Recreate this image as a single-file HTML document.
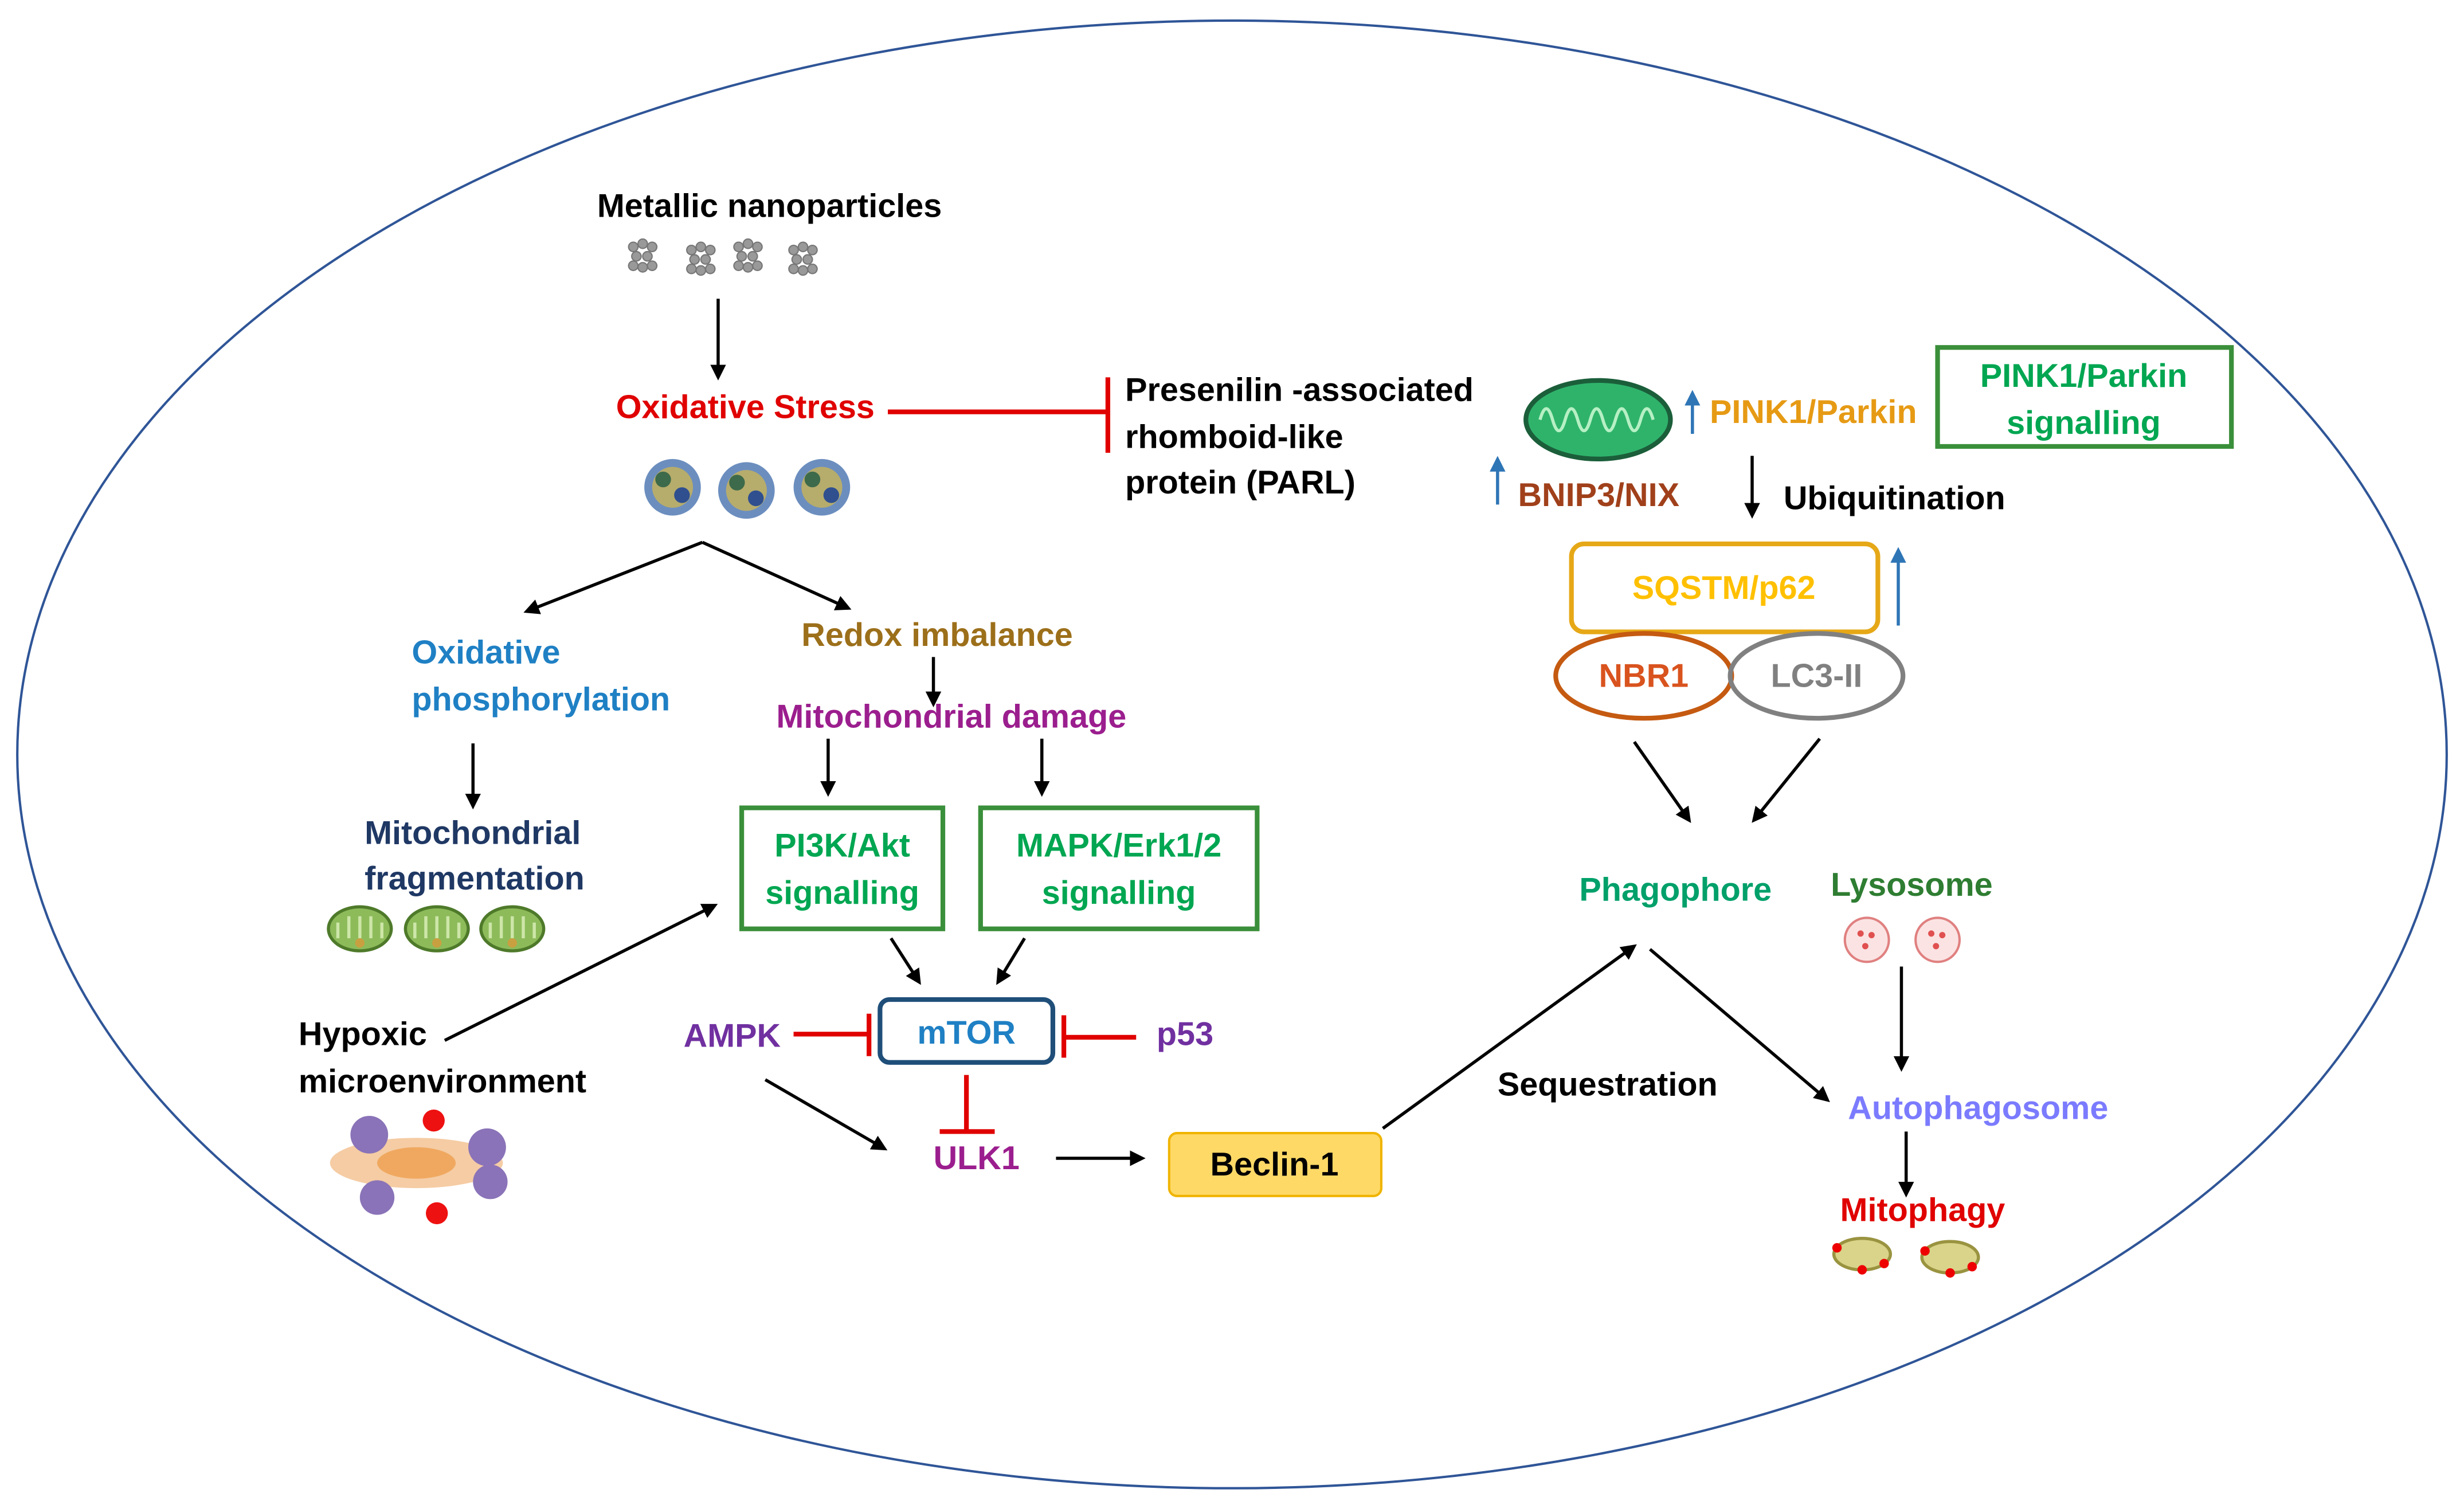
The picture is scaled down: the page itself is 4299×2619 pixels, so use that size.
<!DOCTYPE html>
<html><head><meta charset="utf-8"><style>
html,body{margin:0;padding:0;background:#fff}
svg{display:block}
text{font-family:"Liberation Sans",sans-serif;font-weight:bold;font-size:21px}
</style></head><body>
<svg width="4299" height="2619" viewBox="0 0 1568 955" xmlns="http://www.w3.org/2000/svg">
<defs>
<marker id="a" markerWidth="10" markerHeight="10" refX="8" refY="5" orient="auto" markerUnits="userSpaceOnUse"><path d="M0,0 L10,5 L0,10 z" fill="#000"/></marker>
<marker id="b" markerWidth="10" markerHeight="10" refX="8" refY="5" orient="auto" markerUnits="userSpaceOnUse"><path d="M0,0 L10,5 L0,10 z" fill="#2E75B6"/></marker>
<g id="np" fill="#999" stroke="#777" stroke-width="0.8"><circle cx="0" cy="0" r="3"/><circle cx="6" cy="-2" r="3"/><circle cx="12" cy="0" r="3"/><circle cx="2" cy="6" r="3"/><circle cx="9" cy="6" r="3"/><circle cx="0" cy="12" r="3"/><circle cx="6" cy="13" r="3"/><circle cx="12" cy="12" r="3"/></g>
<g id="cp"><circle r="18" fill="#6C8EBF"/><circle r="13" fill="#C9B458" opacity="0.8"/><circle cx="-6" cy="-5" r="5" fill="#3D6A4A"/><circle cx="6" cy="5" r="5" fill="#2F4F8F"/></g>
<g id="mi"><ellipse rx="20" ry="14" fill="#8DBB5A" stroke="#4E7A2A" stroke-width="2"/><path d="M-14,-4 v10 M-7,-8 v14 M0,-8 v14 M7,-8 v14 M14,-4 v10" stroke="#CDE6A8" stroke-width="2"/><circle cx="0" cy="9" r="3" fill="#C9A040"/></g>
<g id="my"><ellipse rx="18" ry="10" fill="#D9D48A" stroke="#9A9340" stroke-width="2"/><circle cx="-16" cy="-4" r="3" fill="#E00"/><circle cx="14" cy="6" r="3" fill="#E00"/><circle cx="0" cy="10" r="3" fill="#E00"/></g>
</defs>
<ellipse cx="784" cy="480" rx="773" ry="467" fill="none" stroke="#2F5597" stroke-width="1.5"/>

<text x="380" y="138">Metallic nanoparticles</text>
<use href="#np" x="403" y="157"/><use href="#np" x="440" y="159"/><use href="#np" x="470" y="157"/><use href="#np" x="505" y="159"/>
<line x1="457" y1="190" x2="457" y2="240" stroke="#000" stroke-width="2" marker-end="url(#a)"/>
<text x="392" y="266" fill="#E00000">Oxidative Stress</text>
<line x1="565" y1="262" x2="705" y2="262" stroke="#E00000" stroke-width="3"/>
<line x1="705" y1="240" x2="705" y2="288" stroke="#E00000" stroke-width="3"/>
<text x="716" y="255">Presenilin -associated</text>
<text x="716" y="285">rhomboid-like</text>
<text x="716" y="314">protein (PARL)</text>
<use href="#cp" x="428" y="310"/><use href="#cp" x="475" y="312"/><use href="#cp" x="523" y="310"/>
<line x1="447" y1="345" x2="335" y2="389" stroke="#000" stroke-width="2" marker-end="url(#a)"/>
<line x1="447" y1="345" x2="540" y2="387" stroke="#000" stroke-width="2" marker-end="url(#a)"/>
<text x="262" y="422" fill="#1F80C4">Oxidative</text>
<text x="262" y="452" fill="#1F80C4">phosphorylation</text>
<text x="510" y="411" fill="#9C6F1A">Redox imbalance</text>
<line x1="594" y1="418" x2="594" y2="448" stroke="#000" stroke-width="2" marker-end="url(#a)"/>
<text x="494" y="463" fill="#9B1E8E">Mitochondrial damage</text>
<line x1="527" y1="470" x2="527" y2="505" stroke="#000" stroke-width="2" marker-end="url(#a)"/>
<line x1="663" y1="470" x2="663" y2="505" stroke="#000" stroke-width="2" marker-end="url(#a)"/>
<line x1="301" y1="473" x2="301" y2="513" stroke="#000" stroke-width="2" marker-end="url(#a)"/>
<text x="232" y="537" fill="#1F3864">Mitochondrial</text>
<text x="232" y="566" fill="#1F3864">fragmentation</text>
<use href="#mi" x="229" y="591"/><use href="#mi" x="278" y="591"/><use href="#mi" x="326" y="591"/>
<rect x="472" y="514" width="128" height="77" fill="none" stroke="#3A8F3A" stroke-width="3"/>
<text x="536" y="545" fill="#00A651" text-anchor="middle">PI3K/Akt</text>
<text x="536" y="575" fill="#00A651" text-anchor="middle">signalling</text>
<rect x="624" y="514" width="176" height="77" fill="none" stroke="#3A8F3A" stroke-width="3"/>
<text x="712" y="545" fill="#00A651" text-anchor="middle">MAPK/Erk1/2</text>
<text x="712" y="575" fill="#00A651" text-anchor="middle">signalling</text>
<line x1="567" y1="597" x2="585" y2="625" stroke="#000" stroke-width="2" marker-end="url(#a)"/>
<line x1="652" y1="597" x2="635" y2="625" stroke="#000" stroke-width="2" marker-end="url(#a)"/>
<line x1="283" y1="662" x2="455" y2="576" stroke="#000" stroke-width="2" marker-end="url(#a)"/>
<text x="190" y="665">Hypoxic</text>
<text x="190" y="695">microenvironment</text>
<g>
<ellipse cx="265" cy="740" rx="55" ry="16" fill="#F4C79A" opacity="0.9"/>
<ellipse cx="265" cy="740" rx="25" ry="10" fill="#F0A860"/>
<circle cx="235" cy="722" r="12" fill="#8A73B8"/><circle cx="310" cy="730" r="12" fill="#8A73B8"/><circle cx="240" cy="762" r="11" fill="#8A73B8"/><circle cx="312" cy="752" r="11" fill="#8A73B8"/>
<circle cx="276" cy="713" r="7" fill="#E11"/><circle cx="278" cy="772" r="7" fill="#E11"/>
</g>
<text x="435" y="666" fill="#7030A0">AMPK</text>
<line x1="505" y1="658" x2="553" y2="658" stroke="#E00000" stroke-width="3"/>
<line x1="553" y1="645" x2="553" y2="672" stroke="#E00000" stroke-width="3"/>
<rect x="560" y="636" width="110" height="40" rx="6" fill="none" stroke="#1F4E79" stroke-width="3"/>
<text x="615" y="664" fill="#1F80C4" text-anchor="middle">mTOR</text>
<text x="736" y="665" fill="#7030A0">p53</text>
<line x1="723" y1="660" x2="677" y2="660" stroke="#E00000" stroke-width="3"/>
<line x1="677" y1="646" x2="677" y2="673" stroke="#E00000" stroke-width="3"/>
<line x1="615" y1="684" x2="615" y2="720" stroke="#E00000" stroke-width="3"/>
<line x1="598" y1="720" x2="633" y2="720" stroke="#E00000" stroke-width="3"/>
<text x="594" y="744" fill="#9B1E8E">ULK1</text>
<line x1="487" y1="687" x2="563" y2="731" stroke="#000" stroke-width="2" marker-end="url(#a)"/>
<line x1="672" y1="737" x2="727" y2="737" stroke="#000" stroke-width="2" marker-end="url(#a)"/>
<rect x="744" y="721" width="135" height="40" rx="5" fill="#FFD966" stroke="#F0B400" stroke-width="1.5"/>
<text x="811" y="748" text-anchor="middle">Beclin-1</text>
<line x1="880" y1="718" x2="1040" y2="602" stroke="#000" stroke-width="2" marker-end="url(#a)"/>
<text x="953" y="697">Sequestration</text>

<g><ellipse cx="1017" cy="267" rx="46" ry="25" fill="#2FB36B" stroke="#1B5E3A" stroke-width="3"/>
<path d="M980,267 q4,-14 8,0 q4,14 8,0 q4,-14 8,0 q4,14 8,0 q4,-14 8,0 q4,14 8,0 q4,-14 8,0 q4,14 8,0 q4,-14 8,0" fill="none" stroke="#B6F0C4" stroke-width="2"/></g>
<line x1="1077" y1="276" x2="1077" y2="250" stroke="#2E75B6" stroke-width="2" marker-end="url(#b)"/>
<text x="1088" y="269" fill="#E69A14">PINK1/Parkin</text>
<rect x="1233" y="221" width="187" height="63" fill="none" stroke="#3A8F3A" stroke-width="3"/>
<text x="1326" y="246" fill="#00A651" text-anchor="middle">PINK1/Parkin</text>
<text x="1326" y="276" fill="#00A651" text-anchor="middle">signalling</text>
<line x1="953" y1="321" x2="953" y2="292" stroke="#2E75B6" stroke-width="2" marker-end="url(#b)"/>
<text x="966" y="322" fill="#A0401A">BNIP3/NIX</text>
<line x1="1115" y1="290" x2="1115" y2="328" stroke="#000" stroke-width="2" marker-end="url(#a)"/>
<text x="1135" y="324">Ubiquitination</text>
<rect x="1000" y="346" width="195" height="56" rx="8" fill="none" stroke="#E6A817" stroke-width="3"/>
<text x="1097" y="381" fill="#FFC000" text-anchor="middle">SQSTM/p62</text>
<line x1="1208" y1="398" x2="1208" y2="350" stroke="#2E75B6" stroke-width="2" marker-end="url(#b)"/>
<ellipse cx="1046" cy="430" rx="56" ry="27" fill="#fff" stroke="#C55A11" stroke-width="3"/>
<text x="1046" y="437" fill="#D9531E" text-anchor="middle">NBR1</text>
<ellipse cx="1156" cy="430" rx="55" ry="27" fill="none" stroke="#808080" stroke-width="3"/>
<text x="1156" y="437" fill="#808080" text-anchor="middle">LC3-II</text>
<line x1="1040" y1="472" x2="1075" y2="522" stroke="#000" stroke-width="2" marker-end="url(#a)"/>
<line x1="1158" y1="470" x2="1116" y2="522" stroke="#000" stroke-width="2" marker-end="url(#a)"/>
<text x="1005" y="573" fill="#00A06A">Phagophore</text>
<text x="1165" y="570" fill="#2E7D32">Lysosome</text>
<g fill="#FBE3E3" stroke="#E08080" stroke-width="1.5"><circle cx="1188" cy="598" r="14"/><circle cx="1233" cy="598" r="14"/></g>
<g fill="#E05050"><circle cx="1184" cy="594" r="2"/><circle cx="1191" cy="595" r="2"/><circle cx="1187" cy="602" r="2"/><circle cx="1229" cy="594" r="2"/><circle cx="1236" cy="595" r="2"/><circle cx="1232" cy="602" r="2"/></g>
<line x1="1210" y1="615" x2="1210" y2="680" stroke="#000" stroke-width="2" marker-end="url(#a)"/>
<line x1="1050" y1="604" x2="1163" y2="700" stroke="#000" stroke-width="2" marker-end="url(#a)"/>
<text x="1176" y="712" fill="#7B7BFF">Autophagosome</text>
<line x1="1213" y1="720" x2="1213" y2="760" stroke="#000" stroke-width="2" marker-end="url(#a)"/>
<text x="1171" y="777" fill="#E00000">Mitophagy</text>
<use href="#my" x="1185" y="798"/><use href="#my" x="1241" y="800"/>
</svg>
</body></html>
